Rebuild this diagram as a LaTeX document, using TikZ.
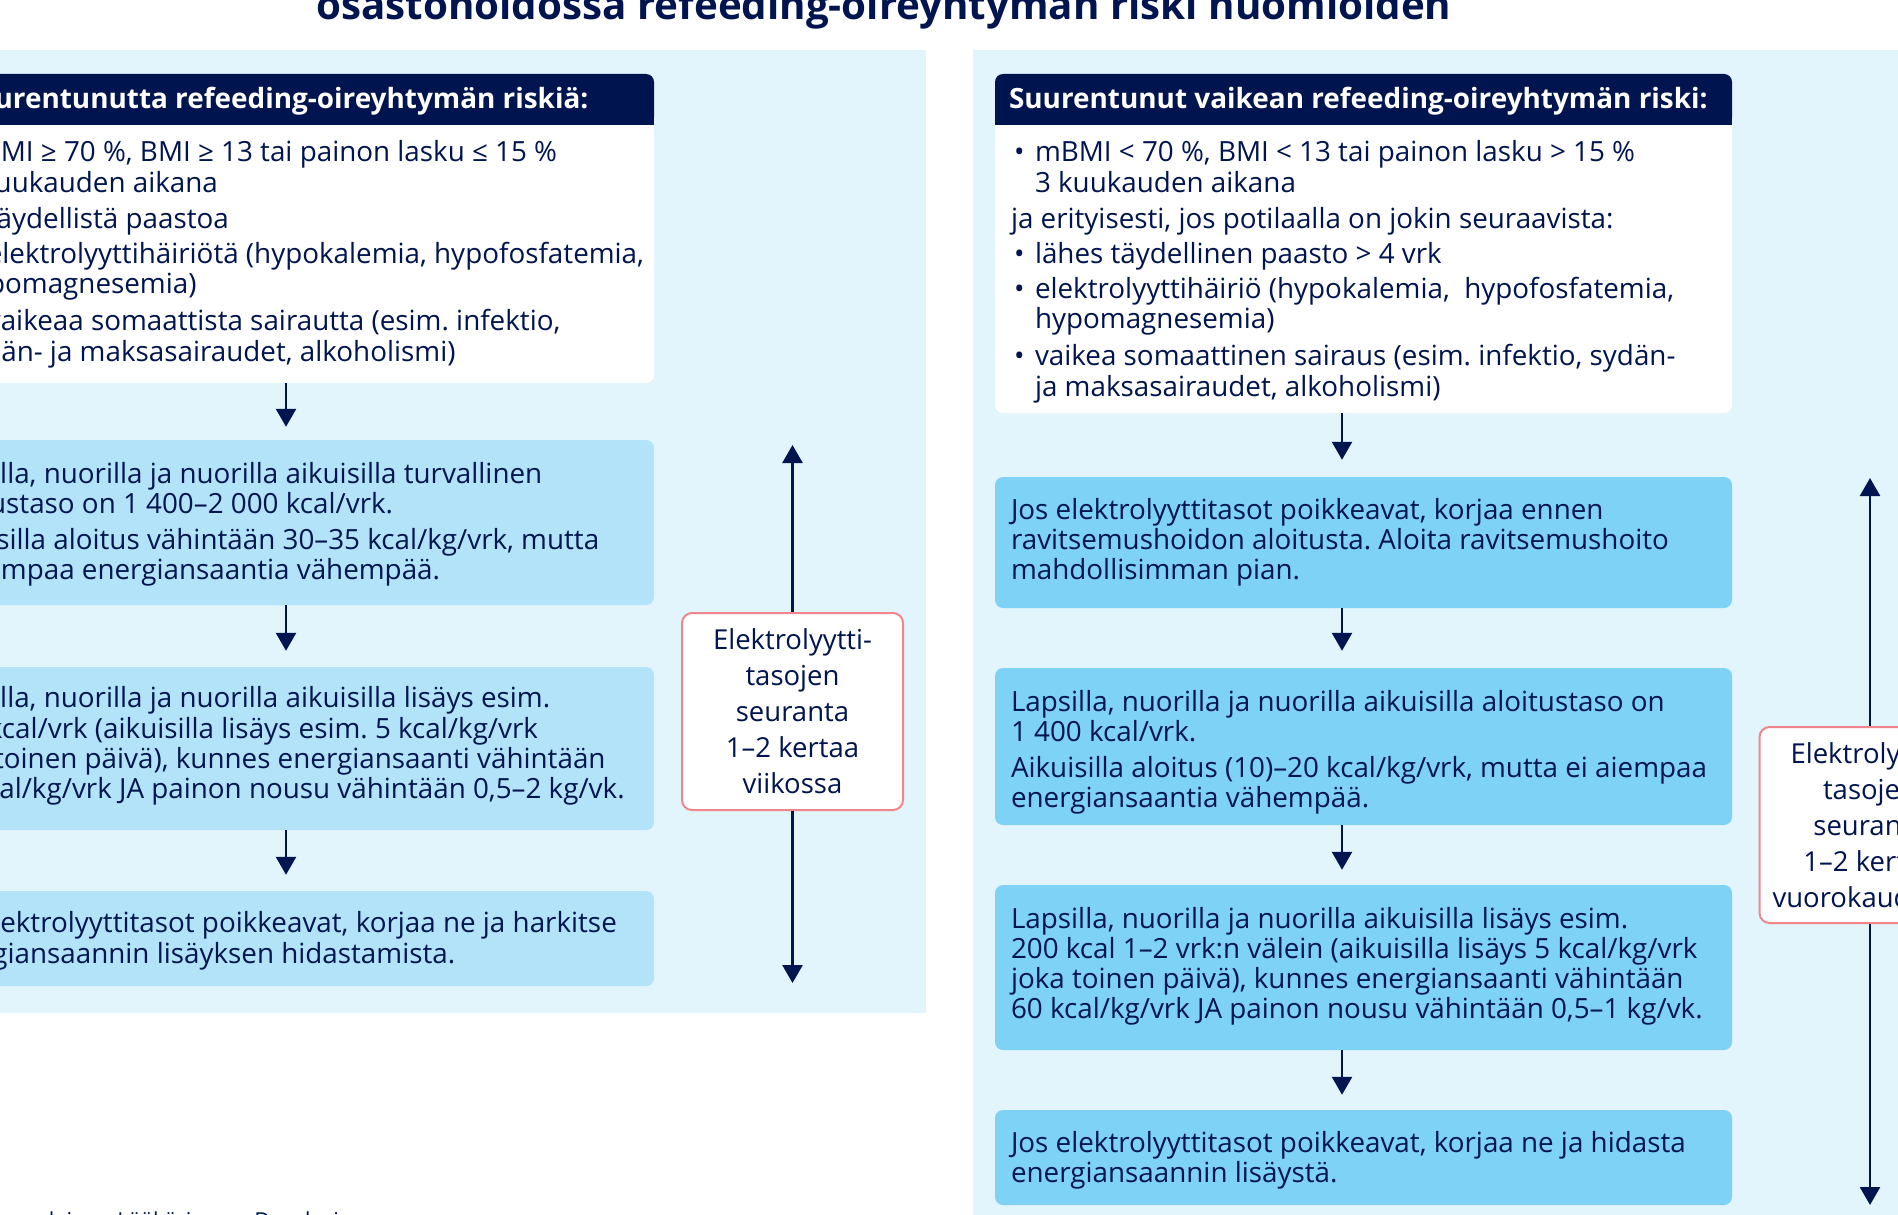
\documentclass[tikz,border=0pt]{standalone}
\usepackage{fontspec}
\setmainfont{Open Sans}
\usetikzlibrary{arrows.meta,calc}
\definecolor{navy}{HTML}{00154F}
\definecolor{bgblue}{HTML}{E2F4FC}
\definecolor{lblue}{HTML}{B3E3F9}
\definecolor{rblue}{HTML}{7DD2F6}
\definecolor{pinkb}{HTML}{F0868C}
\newcommand\mybul{\makebox[24pt][l]{\hspace{3pt}•}}
\newcommand\myind{\hspace*{24pt}}
\newcommand\tlines[1]{\makebox[705pt][l]{\begin{tabular}{@{}l@{}}#1\end{tabular}}}
\newcommand\tpad[1]{\rule{0pt}{\dimexpr21pt+#1pt\relax}}
\newcommand\bpad[1]{\rule[-\dimexpr9pt+#1pt\relax]{0pt}{\dimexpr9pt+#1pt\relax}}
\frenchspacing
\begin{document}
\begin{tikzpicture}[x=1pt,y=-1pt,
  txt/.style={text=navy, font=\fontsize{27.8}{30}\selectfont},
  bluebox/.style={txt, rounded corners=8pt, minimum width=737pt, inner xsep=16pt, inner ysep=0pt},
  lbox/.style={bluebox, fill=lblue},
  rbox/.style={bluebox, fill=rblue},
  wbody/.style={bluebox, fill=white},
  header/.style={text=white, font=\bfseries\fontsize{27.9}{30}\selectfont, minimum width=737pt, inner xsep=14pt, inner ysep=0pt, minimum height=51pt, fill=navy, rounded corners=8pt},
  mon/.style={text=navy, font=\fontsize{27.5}{36}\selectfont, draw=pinkb, line width=2pt, fill=white, rounded corners=10pt, align=center, minimum width=221pt, inner xsep=2pt, inner ysep=0pt},
  arr/.style={draw=navy, line width=2.5pt, -{Triangle[width=20pt,length=18pt]}},
]
\useasboundingbox (0,0) rectangle (1898,1215);
\clip (0,0) rectangle (1898,1215);

% title
\node[text=navy, font=\bfseries\fontsize{40.3}{48}\selectfont, anchor=base] (title) at (884,20) {osastohoidossa refeeding-oireyhtymän riski huomioiden};

% panels
\fill[bgblue] (-105,50) rectangle (926,1013);
\fill[bgblue] (973,50) rectangle (2004,1300);

% ---------- left column ----------
\fill[white] (-83,125) rectangle (654,200);
\fill[navy] (-83,100) rectangle (654,125);
\node[header] (hL) at (285.5,99.5) {\makebox[709pt][l]{\rule{0pt}{24pt}Ei suurentunutta refeeding-oireyhtymän riskiä:}};
\node[wbody, minimum height=258pt] (wL) at (285.5,254) {\tlines{%
\tpad{3}\mybul mBMI ≥ 70 \%, BMI ≥ 13 tai painon lasku ≤ 15 \%\\
\myind 3 kuukauden aikana\\[6pt]
\mybul ei täydellistä paastoa\\[5pt]
\mybul ei elektrolyyttihäiriötä (hypokalemia, hypofosfatemia,\\
\myind hypomagnesemia)\\[7pt]
\mybul ei vaikeaa somaattista sairautta (esim. infektio,\\
\myind sydän- ja maksasairaudet, alkoholismi)}};

\node[lbox, minimum height=165pt] (b1) at (285.5,522.5) {\tlines{%
\tpad{6}Lapsilla, nuorilla ja nuorilla aikuisilla turvallinen\\
aloitustaso on 1~400–2~000 kcal/vrk.\\[5pt]
Aikuisilla aloitus vähintään 30–35 kcal/kg/vrk, mutta\\
ei aiempaa energiansaantia vähempää.}};

\node[lbox, minimum height=163pt] (b2) at (285.5,748.5) {\tlines{%
Lapsilla, nuorilla ja nuorilla aikuisilla lisäys esim.\\
200 kcal/vrk (aikuisilla lisäys esim. 5 kcal/kg/vrk\\
joka toinen päivä), kunnes energiansaanti vähintään\\
60 kcal/kg/vrk JA painon nousu vähintään 0,5–2 kg/vk.\bpad{3}}};

\node[lbox, minimum height=95pt] (b3) at (285.5,938.5) {\tlines{%
\tpad{7}Jos elektrolyyttitasot poikkeavat, korjaa ne ja harkitse\\
energiansaannin lisäyksen hidastamista.}};

\coordinate (axL) at (286,0);
\draw[arr, shorten >=13pt] (wL.south -| axL) -- (b1.north -| axL);
\draw[arr, shorten >=16pt] (b1.south -| axL) -- (b2.north -| axL);
\draw[arr, shorten >=16pt] (b2.south -| axL) -- (b3.north -| axL);

\node[mon, minimum height=197pt] (m1) at (792.5,711.5) {Elektrolyytti-\\tasojen\\seuranta\\1–2 kertaa\\viikossa};
\coordinate (m1t) at (792.5,445);
\coordinate (m1b) at (792.5,983);
\draw[arr] (m1.north) -- (m1t);
\draw[arr] (m1.south) -- (m1b);

% ---------- right column ----------
\fill[white] (995,125) rectangle (1732,200);
\fill[navy] (995,100) rectangle (1732,125);
\node[header] (hR) at (1363.5,99.5) {\makebox[709pt][l]{\rule{0pt}{24pt}Suurentunut vaikean refeeding-oireyhtymän riski:}};
\node[wbody, minimum height=288pt] (wR) at (1363.5,269) {\tlines{%
\tpad{8}\mybul mBMI < 70 \%, BMI < 13 tai painon lasku > 15 \%\\
\myind 3 kuukauden aikana\\[6pt]
ja erityisesti, jos potilaalla on jokin seuraavista:\\[5pt]
\mybul lähes täydellinen paasto > 4 vrk\\[5pt]
\mybul elektrolyyttihäiriö (hypokalemia,\ \ hypofosfatemia,\\
\myind hypomagnesemia)\\[7pt]
\mybul vaikea somaattinen sairaus (esim. infektio, sydän-\\
\myind ja maksasairaudet, alkoholismi)}};

\node[rbox, minimum height=131pt] (r1) at (1363.5,542.5) {\tlines{%
\tpad{2}Jos elektrolyyttitasot poikkeavat, korjaa ennen\\
ravitsemushoidon aloitusta. Aloita ravitsemushoito\\
mahdollisimman pian.}};

\node[rbox, minimum height=157pt] (r2) at (1363.5,746.5) {\tlines{%
\tpad{14}Lapsilla, nuorilla ja nuorilla aikuisilla aloitustaso on\\
1~400 kcal/vrk.\\[5pt]
Aikuisilla aloitus (10)–20 kcal/kg/vrk, mutta ei aiempaa\\
energiansaantia vähempää.}};

\node[rbox, minimum height=165pt] (r3) at (1363.5,967.5) {\tlines{%
Lapsilla, nuorilla ja nuorilla aikuisilla lisäys esim.\\
200 kcal 1–2 vrk:n välein (aikuisilla lisäys 5 kcal/kg/vrk\\
joka toinen päivä), kunnes energiansaanti vähintään\\
60 kcal/kg/vrk JA painon nousu vähintään 0,5–1 kg/vk.}};

\node[rbox, minimum height=95pt] (r4) at (1363.5,1157.5) {\tlines{%
\tpad{8}Jos elektrolyyttitasot poikkeavat, korjaa ne ja hidasta\\
energiansaannin lisäystä.}};

\coordinate (axR) at (1342,0);
\draw[arr, shorten >=17pt] (wR.south -| axR) -- (r1.north -| axR);
\draw[arr, shorten >=17pt] (r1.south -| axR) -- (r2.north -| axR);
\draw[arr, shorten >=15pt] (r2.south -| axR) -- (r3.north -| axR);
\draw[arr, shorten >=15pt] (r3.south -| axR) -- (r4.north -| axR);

\node[mon, minimum height=196pt] (m2) at (1870,825) {Elektrolyytti-\\tasojen\\seuranta\\1–2 kertaa\\vuorokaudessa};
\coordinate (m2t) at (1870,478);
\coordinate (m2b) at (1870,1205);
\draw[arr] (m2.north) -- (m2t);
\draw[arr] (m2.south) -- (m2b);

% footer (cut off)
\node[text=navy, font=\fontsize{22}{26}\selectfont, anchor=base east] (foot) at (363,1228) {Suomalainen Lääkäriseura Duodecim};
\end{tikzpicture}
\end{document}
